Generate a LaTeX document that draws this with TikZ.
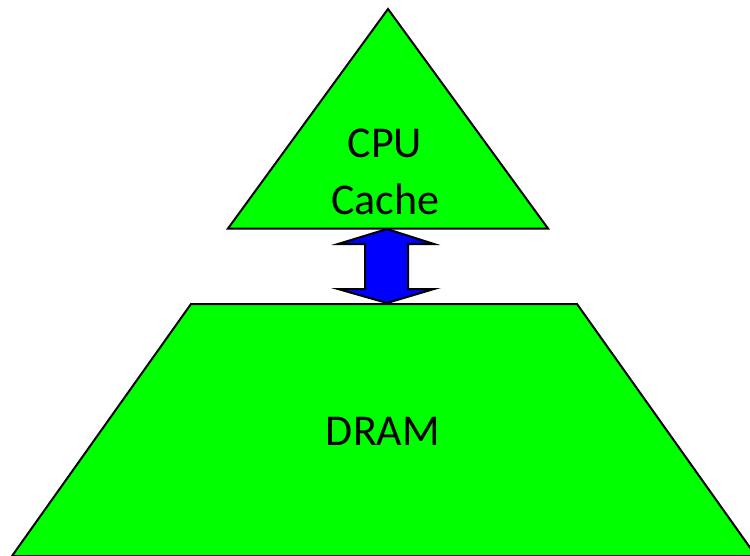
\documentclass[tikz,border=0pt]{standalone}
\usepackage{fontspec}
\setmainfont{Carlito}
\begin{document}
\begin{tikzpicture}[x=1pt,y=-1pt,
  greenshape/.style={draw=black,line width=2pt,line join=miter,fill={rgb,255:red,0;green,255;blue,0}},
  arrowshape/.style={draw=black,line width=2pt,line join=miter,fill={rgb,255:red,0;green,0;blue,255}},
  lbl/.style={anchor=base,inner sep=0pt,font=\fontsize{44}{57}\selectfont}]
\useasboundingbox (0,0) rectangle (750,555);
\clip (0,0) rectangle (750,555);
% cache triangle
\path[greenshape] (388,9) -- (548,228.5) -- (228,228.5) -- cycle;
% DRAM trapezoid
\path[greenshape] (191,304) -- (577,304) -- (756,556) -- (12,556) -- cycle;
% double arrow
\path[arrowshape] (387,229) -- (434,244) -- (408,244) -- (408,289) -- (434,289) -- (387,303)
  -- (338,289) -- (365,289) -- (365,244) -- (338,244) -- cycle;
\node[lbl] (cpu) at (385,157.3) {CPU};
\node[lbl] (cache) at (385.5,214) {Cache};
\node[lbl] (dram) at (383,445.7) {DRAM};
\end{tikzpicture}
\end{document}
